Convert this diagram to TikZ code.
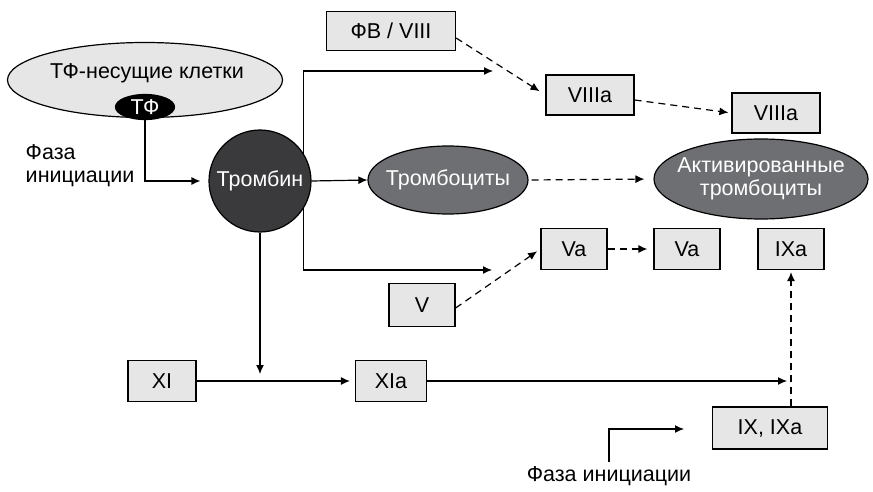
\documentclass[tikz,border=0pt]{standalone}
\usepackage{fontspec}
\setmainfont{Liberation Sans}
\usetikzlibrary{arrows.meta}
\usetikzlibrary{shapes.geometric}

\definecolor{boxgray}{RGB}{230,230,231}
\definecolor{darkcell}{RGB}{58,58,60}
\definecolor{midcell}{RGB}{110,111,114}

\begin{document}
\begin{tikzpicture}[x=1pt, y=-1pt, line width=1.2pt, >={Latex[length=9pt,width=8pt]},
  every node/.style={font=\fontsize{21.5}{23}\selectfont},
  fbox/.style={draw, fill=boxgray, minimum height=41, inner sep=0},
  cell/.style={draw, ellipse, inner sep=0},
  celltext/.style={text=white, align=center},
  dline/.style={dash pattern=on 7pt off 5pt}]
\useasboundingbox (0,0) rectangle (873,492);

% cells
\node[cell, fill=boxgray, minimum width=275, minimum height=75] (tfcells) at (145,80) {};
\node (tfcellstxt) at (147,73) {ТФ-несущие клетки};
\node[cell, fill=black, minimum width=59, minimum height=25] (tf) at (145,107) {};
\node[celltext] at (tf) {ТФ};
\node[cell, circle, fill=darkcell, minimum size=102] (thrombin) at (260,181) {};
\node[celltext] at (thrombin) {Тромбин};
\node[cell, fill=midcell, minimum width=160, minimum height=68] (plt) at (448,180) {};
\node[celltext] at (plt) {Тромбоциты};
\node[cell, fill=midcell, minimum width=214, minimum height=80] (aplt) at (761,179) {};
\node[celltext] at (aplt) {Активированные\\тромбоциты};

% factors
\node[fbox, minimum width=129, minimum height=39] (fv) at (391,31) {ФВ / VIII};
\node[fbox, minimum width=88, minimum height=40] (viiia) at (590,95) {VIIIa};
\node[fbox, minimum width=88, minimum height=40] (viiiab) at (776,113) {VIIIa};
\node[fbox, minimum width=66] (va) at (574,249) {Va};
\node[fbox, minimum width=66] (vab) at (687,249) {Va};
\node[fbox, minimum width=66] (ixa) at (791,249) {IXa};
\node[fbox, minimum width=66, minimum height=43] (v) at (422,305) {V};
\node[fbox, minimum width=68] (xi) at (162,381) {XI};
\node[fbox, minimum width=71] (xia) at (391,381) {XIa};
\node[fbox, minimum width=115, minimum height=42] (ix) at (770,428) {IX, IXa};

% labels
\node[align=left] (phase) at (80,166) {Фаза\\инициации};
\node (phaseb) at (609,476) {Фаза инициации};

% free ends
\coordinate (toviii) at (493,71);
\coordinate (tova) at (492,270);
\coordinate (toxi) at (260,374);
\coordinate (toix) at (787,381);
\coordinate (toixb) at (684,429);

% solid
\draw[->, shorten >=8pt] (tf.south) |- (thrombin.west);
\draw[->] (thrombin.32.5) |- (toviii);
\draw[->] (thrombin.-32.5) |- (tova);
\draw[->] (thrombin.east) -- (plt.west);
\draw[->] (thrombin.south) -- (toxi);
\draw[->, shorten >=5pt] (xi) -- (xia);
\draw[->] (xia) -- (toix);
\draw[->] (phaseb.north) |- (toixb);

% dashed
\draw[dline, ->, shorten >=7pt] ([yshift=-7pt]fv.east) -- (viiia.west);
\draw[dline, ->, shorten >=3pt] ([yshift=-5pt]viiia.east) -- (viiiab.west);
\draw[dline, ->, shorten >=9pt, shorten <=3pt] (plt.east) -- (aplt.west);
\draw[dline, ->, shorten >=6pt] (va) -- (vab);
\draw[dline, ->, shorten >=4pt] ([yshift=-3pt]v.east) -- (va.west);
\draw[dline, ->, shorten >=2pt] (ix.north -| ixa) -- (ixa.south);
\end{tikzpicture}
\end{document}
